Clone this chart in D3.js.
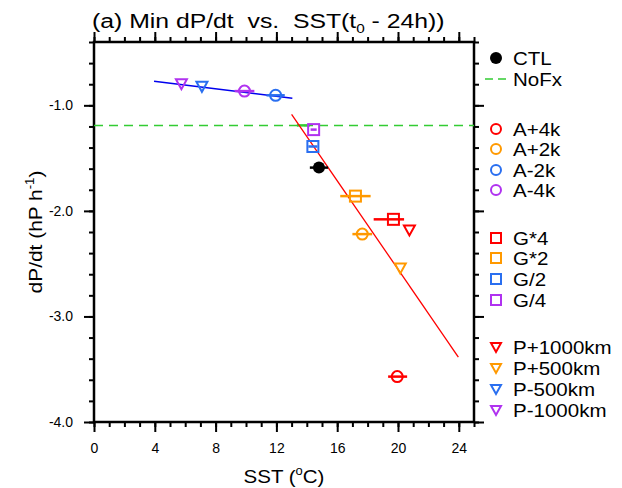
<!DOCTYPE html>
<html>
<head>
<meta charset="utf-8">
<title>Min dP/dt vs SST</title>
<script src="https://cdn.jsdelivr.net/npm/d3@7"></script>
<style>
  body { margin: 0; background: #fff; }
  text { font-family: "Liberation Sans", Arial, Helvetica, sans-serif; fill: #000; }
</style>
</head>
<body>
<div id="chart"></div>
<script>
// ---------------- data ----------------
var names  = ['CTL', 'A+4k', 'A+2k', 'A-2k', 'A-4k', 'G*4', 'G*2', 'G/2', 'G/4',
              'P+1000km', 'P+500km', 'P-500km', 'P-1000km'];
var shapes = ['dot', 'circle', 'circle', 'circle', 'circle', 'square', 'square', 'square', 'square',
              'tri', 'tri', 'tri', 'tri'];
var sst    = [14.8, 19.95, 17.65, 11.95, 9.9, 19.7, 17.2, 14.4, 14.45, 20.75, 20.15, 7.1, 5.75];
var dpdt   = [-1.59, -3.57, -2.22, -0.905, -0.865, -2.08, -1.86, -1.39, -1.23, -2.18, -2.54, -0.82, -0.795];
var sstLo  = [14.2, 19.35, 17.0, 11.35, 9.25, 18.4, 16.2, 14.1, 14.25, 20.75, 20.15, 7.1, 5.75];
var sstHi  = [15.4, 20.6, 18.3, 12.55, 10.55, 20.4, 18.2, 14.7, 14.65, 20.75, 20.15, 7.1, 5.75];

var nofxY = -1.19;            // NoFx reference value
var nofxSst = [13.35, 14.2];  // NoFx SST range

// fitted lines: [x0, x1], [y0, y1]
var coldFitX = [3.95, 13.05], coldFitY = [-0.772, -0.932];
var warmFitX = [13.0, 23.97], warmFitY = [-1.085, -3.385];

var xTicks = [0, 4, 8, 12, 16, 20, 24];
var yTicks = [-4.0, -3.0, -2.0, -1.0];

var colorOf = {
  'CTL': '#000000',
  'A+4k': '#ff0000', 'A+2k': '#ff9900', 'A-2k': '#2a6ff0', 'A-4k': '#b032f0',
  'G*4': '#ff0000', 'G*2': '#ff9900', 'G/2': '#2a6ff0', 'G/4': '#b032f0',
  'P+1000km': '#ff0000', 'P+500km': '#ff9900', 'P-500km': '#2a6ff0', 'P-1000km': '#b032f0'
};
var green = '#33cc33';

// ---------------- svg ----------------
var W = 622, H = 488;
var margin = {top: 42, right: 148, bottom: 66, left: 94};
var width = W - margin.left - margin.right;   // 380
var height = H - margin.top - margin.bottom;  // 380

var svg = d3.select('#chart').append('svg')
    .attr('width', W)
    .attr('height', H);

var g = svg.append('g')
    .attr('transform', 'translate(' + margin.left + ',' + margin.top + ')');

var x = d3.scaleLinear().domain([0, 25]).range([0, width]);
var y = d3.scaleLinear().domain([-4.0, -0.4]).range([height, 0]);

// ---------------- axes ----------------
function styleAxis(sel) {
  sel.select('.domain').remove();
  sel.selectAll('line').attr('stroke', '#000').attr('stroke-width', 2);
  sel.selectAll('text').style('font-size', '14px');
}

var xMinor = d3.range(0, 26, 1);
var yMinor = d3.range(-4.0, -0.39, 0.2);
var yFmt = function (d) { return d.toFixed(1); };   // plain hyphen minus

// bottom
g.append('g').attr('transform', 'translate(0,' + height + ')')
  .call(d3.axisBottom(x).tickValues(xMinor).tickSize(5).tickFormat(''))
  .call(styleAxis);
g.append('g').attr('transform', 'translate(0,' + height + ')')
  .call(d3.axisBottom(x).tickValues(xTicks).tickSize(10).tickPadding(11).tickFormat(d3.format('d')))
  .call(styleAxis);
// top
g.append('g')
  .call(d3.axisTop(x).tickValues(xMinor).tickSize(5).tickFormat(''))
  .call(styleAxis);
g.append('g')
  .call(d3.axisTop(x).tickValues(xTicks).tickSize(10).tickFormat(''))
  .call(styleAxis);
// left
g.append('g')
  .call(d3.axisLeft(y).tickValues(yMinor).tickSize(5).tickFormat(''))
  .call(styleAxis);
g.append('g')
  .call(d3.axisLeft(y).tickValues(yTicks).tickSize(10).tickPadding(11).tickFormat(yFmt))
  .call(styleAxis);
// right
g.append('g').attr('transform', 'translate(' + width + ',0)')
  .call(d3.axisRight(y).tickValues(yMinor).tickSize(5).tickFormat(''))
  .call(styleAxis);
g.append('g').attr('transform', 'translate(' + width + ',0)')
  .call(d3.axisRight(y).tickValues(yTicks).tickSize(10).tickFormat(''))
  .call(styleAxis);

// frame
g.append('rect')
  .attr('width', width).attr('height', height)
  .attr('fill', 'none').attr('stroke', '#000').attr('stroke-width', 2.5);

// ---------------- lines ----------------
g.append('line')
  .attr('x1', x(0)).attr('x2', x(25))
  .attr('y1', y(nofxY)).attr('y2', y(nofxY))
  .attr('stroke', green).attr('stroke-width', 1.5)
  .attr('stroke-dasharray', '9,6');
g.append('line')
  .attr('x1', x(nofxSst[0])).attr('x2', x(nofxSst[1]))
  .attr('y1', y(nofxY)).attr('y2', y(nofxY))
  .attr('stroke', green).attr('stroke-width', 2.5);

g.append('line')
  .attr('x1', x(coldFitX[0])).attr('x2', x(coldFitX[1]))
  .attr('y1', y(coldFitY[0])).attr('y2', y(coldFitY[1]))
  .attr('stroke', '#0000ee').attr('stroke-width', 1.5);
g.append('line')
  .attr('x1', x(warmFitX[0])).attr('x2', x(warmFitX[1]))
  .attr('y1', y(warmFitY[0])).attr('y2', y(warmFitY[1]))
  .attr('stroke', '#ff0000').attr('stroke-width', 1.3);

// ---------------- markers ----------------
function drawMarker(sel, shape, col, s) {
  if (shape === 'dot') {
    sel.append('circle').attr('r', 6).attr('fill', col);
  } else if (shape === 'circle') {
    sel.append('circle').attr('r', s).attr('fill', 'none')
      .attr('stroke', col).attr('stroke-width', 2);
  } else if (shape === 'square') {
    sel.append('rect').attr('x', -s).attr('y', -s).attr('width', 2 * s).attr('height', 2 * s)
      .attr('fill', 'none').attr('stroke', col).attr('stroke-width', 2);
  } else {
    sel.append('path').attr('d', 'M' + (-s) + ',' + (-s + 1) + 'L' + s + ',' + (-s + 1) + 'L0,' + s + 'Z')
      .attr('fill', 'none').attr('stroke', col).attr('stroke-width', 2)
      .attr('stroke-linejoin', 'miter');
  }
}

var idx = d3.range(names.length);

var pts = g.append('g').selectAll('g.pt')
  .data(idx).enter().append('g')
  .attr('class', 'pt');

pts.append('line')
  .attr('x1', function (i) { return x(sstLo[i]); })
  .attr('x2', function (i) { return x(sstHi[i]); })
  .attr('y1', function (i) { return y(dpdt[i]); })
  .attr('y2', function (i) { return y(dpdt[i]); })
  .attr('stroke', function (i) { return colorOf[names[i]]; })
  .attr('stroke-width', 2.5);

pts.each(function (i) {
  var m = d3.select(this).append('g')
    .attr('transform', 'translate(' + x(sst[i]) + ',' + y(dpdt[i]) + ')');
  drawMarker(m, shapes[i], colorOf[names[i]], 5.5);
});

// ---------------- legend ----------------
var legendRows = ['CTL', 'NoFx', null, 'A+4k', 'A+2k', 'A-2k', 'A-4k', null,
                  'G*4', 'G*2', 'G/2', 'G/4', null,
                  'P+1000km', 'P+500km', 'P-500km', 'P-1000km'];
var rowY = [58, 79, null, 129, 149, 170, 190, null, 238, 258, 279, 300, null, 347, 368, 389, 410];

var leg = svg.append('g');
legendRows.forEach(function (name, r) {
  if (!name) return;
  var row = leg.append('g').attr('transform', 'translate(496,' + rowY[r] + ')');
  if (name === 'NoFx') {
    row.append('line').attr('x1', -11).attr('x2', 11)
      .attr('stroke', green).attr('stroke-width', 1.5).attr('stroke-dasharray', '8,5');
  } else {
    var i = names.indexOf(name);
    drawMarker(row.append('g'), shapes[i], colorOf[name], 5);
  }
  row.append('text').attr('transform', 'translate(17,7) scale(1.08,1)')
    .style('font-size', '19px').text(name);
});

// ---------------- titles ----------------
var title = svg.append('text')
  .attr('transform', 'translate(92,28) scale(1.18,1)')
  .style('font-size', '21px').style('white-space', 'pre');
title.append('tspan').text('(a) Min dP/dt  vs.  SST(t');
title.append('tspan').attr('dy', 5).style('font-size', '13px').text('0');
title.append('tspan').attr('dy', -5).text(' - 24h))');

var xt = svg.append('text')
  .attr('transform', 'translate(' + (margin.left + width / 2) + ',483) scale(1.08,1)')
  .attr('text-anchor', 'middle').style('font-size', '19px');
xt.append('tspan').text('SST (');
xt.append('tspan').attr('dy', -8).style('font-size', '12px').text('o');
xt.append('tspan').attr('dy', 8).text('C)');

var yt = svg.append('text')
  .attr('transform', 'translate(42,' + (margin.top + height / 2) + ') rotate(-90) scale(1.1,1)')
  .attr('text-anchor', 'middle').style('font-size', '19px');
yt.append('tspan').text('dP/dt (hP h');
yt.append('tspan').attr('dy', -8).style('font-size', '12px').text('-1');
yt.append('tspan').attr('dy', 8).text(')');
</script>
</body>
</html>
